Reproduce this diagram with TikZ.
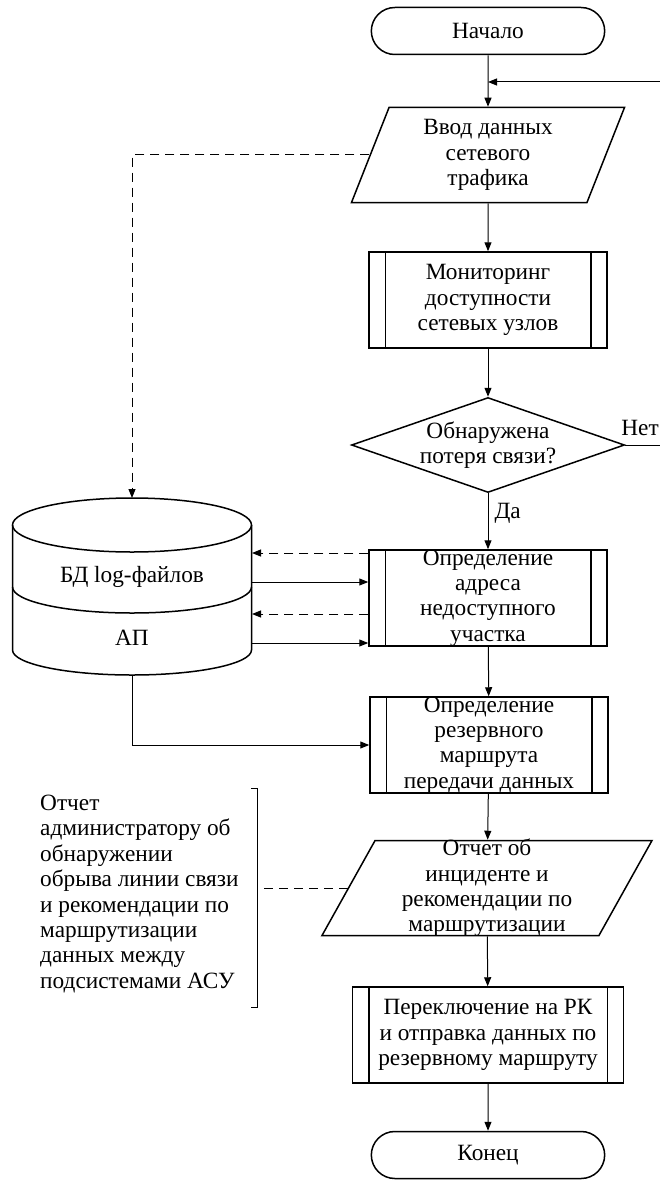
\documentclass[tikz,border=0pt]{standalone}
\usepackage{fontspec}
\setmainfont{Liberation Serif}
\usetikzlibrary{shapes.geometric,shapes.misc,arrows.meta}

\begin{document}
\begin{tikzpicture}[x=1pt,y=-1pt,
    >={Triangle[length=9pt,width=7pt]},
    every node/.style={font=\fontsize{23.3}{25.4}\selectfont, align=center},
    shape line/.style={line width=1.5pt},
    flow/.style={line width=1pt},
    dash line/.style={line width=1pt, dash pattern=on 9pt off 6pt},
    term/.style={rounded rectangle, draw, shape line, minimum width=240pt, minimum height=47pt},
    io/.style={trapezium, trapezium left angle=60, trapezium right angle=120,
        trapezium stretches body, draw, shape line, minimum height=95pt, inner xsep=0pt, inner ysep=-3pt},
    proc/.style={rectangle, draw, shape line, minimum width=238pt, minimum height=96pt,
        inner xsep=0pt, inner ysep=-3pt},
    cond/.style={diamond, draw, shape line, aspect=2.87, minimum width=273pt,
        minimum height=95pt, inner sep=0pt}]
    \useasboundingbox (0,0) rectangle (660,1180);

    % Main flow
    \node[term] (start) at (488,31) {Начало};
    \node[io, minimum width=273pt] (in) at (488,155) {Ввод данных\\сетевого\\трафика};
    \node[proc] (mon) at (488,300) {Мониторинг\\доступности\\сетевых узлов};
    \node[cond] (dec) at (488,445) {Обнаружена\\потеря связи?};
    \node[proc] (addr) at (488,598) {Определение\\адреса\\недоступного\\участка};
    \node[proc] (route) at (489,745) {Определение\\резервного\\маршрута\\передачи данных};
    \node[io, minimum width=330pt] (rep) at (487,888) {Отчет об\\инциденте и\\рекомендации по\\маршрутизации};
    \node[proc, minimum width=271pt] (sw) at (488,1035) {Переключение на РК\\и отправка данных по\\резервному маршруту};
    \node[term] (end) at (488,1155) {Конец};

    % Side bars of the processes
    \foreach \n in {mon,addr,route,sw} {
        \draw[shape line] ([xshift=17pt]\n.north west) -- ([xshift=17pt]\n.south west);
        \draw[shape line] ([xshift=-17pt]\n.north east) -- ([xshift=-17pt]\n.south east);
    }

    % Database
    \draw[shape line] (132,525) ellipse [x radius=119.5pt, y radius=27pt];
    \draw[shape line] (12.5,525) -- (12.5,650)
        arc [start angle=180, end angle=360, x radius=119.5pt, y radius=25pt] -- (251.5,525);
    \draw[shape line] (12.5,587) arc [start angle=180, end angle=360, x radius=119.5pt, y radius=26pt];
    \node (log) at (132,577) {БД log-файлов};
    \node (ap) at (132,638) {АП};
    \coordinate (dbN) at (132,498);
    \coordinate (dbE) at (252,600);
    \coordinate (dbS) at (132,675);

    % Connectors
    \coordinate (fb) at (660,82);
    \coordinate (no) at (660,445);
    \draw[flow,->] (start) -- (in);
    \draw[flow,->] (fb) -- (start.south |- fb);
    \draw[flow,->] (in) -- (mon);
    \draw[flow,->] (mon) -- (dec);
    \draw[flow,->] (dec) -- (addr);
    \draw[flow] (dec.east) -- (no);
    \node (nolbl) at (640,428) {Нет};
    \node[anchor=west] (yes) at (491,513) {Да};
    \draw[flow,->] (addr) -- (route);
    \draw[flow,->] (route) -- (rep);
    \draw[flow,->] (rep) -- (sw);
    \draw[flow,->] (sw) -- (end);

    % Database links
    \draw[dash line,->] (in.west) -| (dbN);
    \foreach \y in {553,614} {
        \coordinate (r) at (0,\y);
        \draw[dash line,->] (addr.west |- r) -- (dbE |- r);
    }
    \foreach \y in {582,643} {
        \coordinate (r) at (0,\y);
        \draw[flow,->] (dbE |- r) -- (addr.west |- r);
    }
    \draw[flow,->] (dbS) |- (route.west);

    % Note
    \node[align=left, anchor=west, inner sep=0pt] (note) at (40,894) {Отчет\\администратору об\\обнаружении\\обрыва линии связи\\и рекомендации по\\маршрутизации\\данных между\\подсистемами АСУ};
    \coordinate (brace) at (257,893);
    \draw[flow] (251,788) -- (257,788) -- (257,1007) -- (251,1007);
    \draw[dash line] (rep.west) -- (rep.west -| brace);
\end{tikzpicture}
\end{document}
